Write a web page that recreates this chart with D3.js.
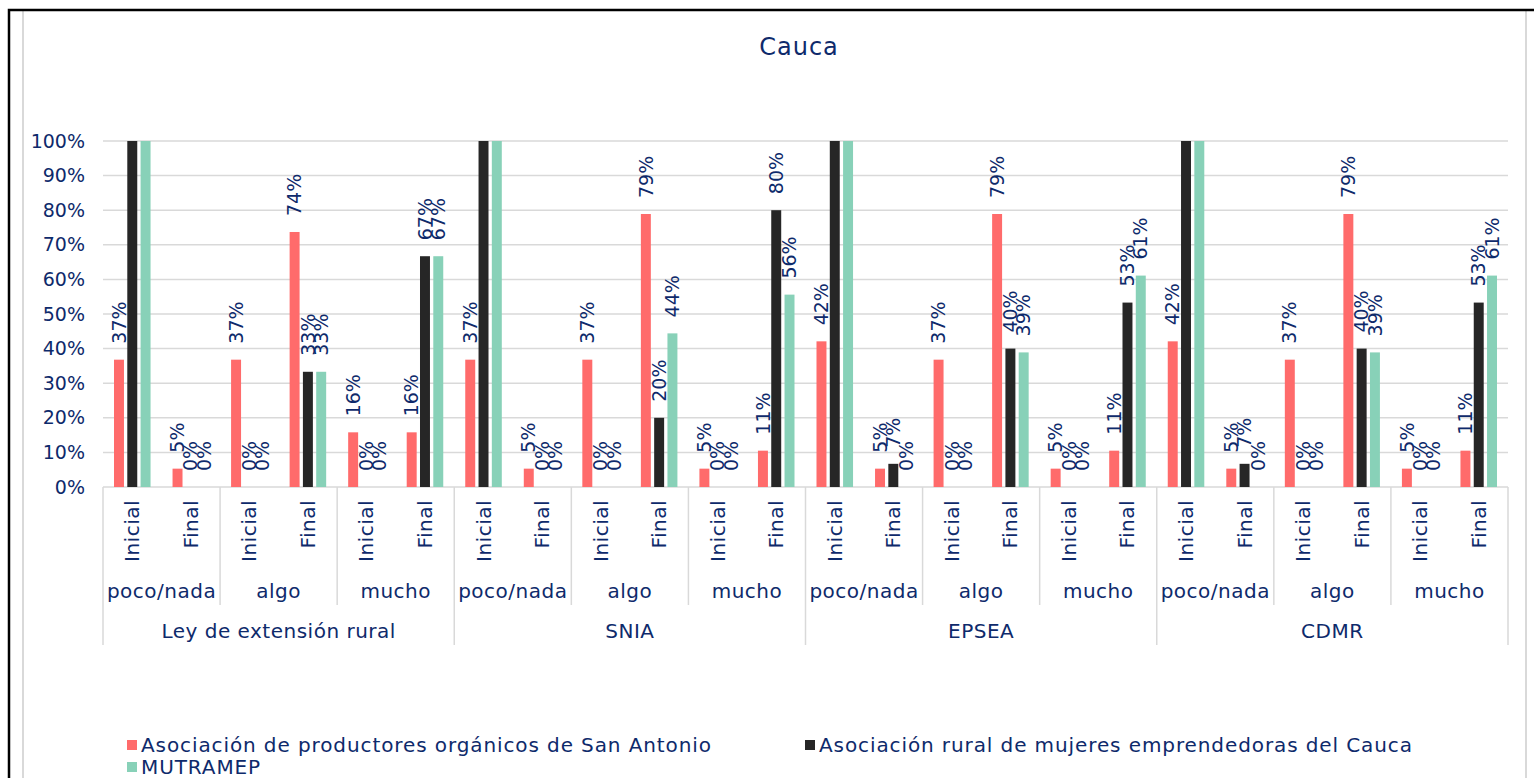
<!DOCTYPE html>
<html>
<head>
<meta charset="utf-8">
<script src="https://cdn.jsdelivr.net/npm/d3@7"></script>
<style>
  body { margin: 0; background: #fff; }
  text { font-family: "DejaVu Sans", sans-serif; fill: #0e2a6b; }
  .wide { letter-spacing: 0.5px; }
  .legend { letter-spacing: 0.9px; }
</style>
</head>
<body>
<svg width="1534" height="778"></svg>
<script>
// series names, shown in the legend
var series = ["Asociación de productores orgánicos de San Antonio",
              "Asociación rural de mujeres emprendedoras del Cauca",
              "MUTRAMEP"];
var seriesColors = ["#ff6b6b", "#262626", "#88d1b8"];

// the three levels of x labels
var groups = ["Ley de extensión rural", "SNIA", "EPSEA", "CDMR"];
var levels = ["poco/nada", "algo", "mucho"];
var phases = ["Inicial", "Final"];

// values (%) in category order: group > level > phase
var sanAntonio   = [36.8, 5.3, 36.8, 73.7, 15.8, 15.8,
                    36.8, 5.3, 36.8, 78.9, 5.3, 10.5,
                    42.1, 5.3, 36.8, 78.9, 5.3, 10.5,
                    42.1, 5.3, 36.8, 78.9, 5.3, 10.5];
var mujeresCauca = [100, 0, 0, 33.3, 0, 66.7,
                    100, 0, 0, 20, 0, 80,
                    100, 6.7, 0, 40, 0, 53.3,
                    100, 6.7, 0, 40, 0, 53.3];
var mutramep     = [100, 0, 0, 33.3, 0, 66.7,
                    100, 0, 0, 44.4, 0, 55.6,
                    100, 0, 0, 38.9, 0, 61.1,
                    100, 0, 0, 38.9, 0, 61.1];
var yTicks = [0, 10, 20, 30, 40, 50, 60, 70, 80, 90, 100];

var allValues = [sanAntonio, mujeresCauca, mutramep];

// build the category list
var cats = [];
groups.forEach(function(g) {
  levels.forEach(function(l) {
    phases.forEach(function(p) { cats.push({group: g, level: l, phase: p}); });
  });
});

var svg = d3.select("svg");

// frame
svg.append("rect").attr("x", 23).attr("y", 10).attr("width", 1503).attr("height", 800)
    .attr("fill", "none").attr("stroke", "#d9d9d9").attr("stroke-width", 2);
svg.append("path").attr("d", "M9,778V10H1534")
    .attr("fill", "none").attr("stroke", "#000").attr("stroke-width", 2.5);

// title
svg.append("text").attr("x", 799).attr("y", 55).attr("text-anchor", "middle")
    .attr("font-size", 24).attr("letter-spacing", 1).text("Cauca");

// plot area (avoid the name "top", it is window.top)
var plotL = 103, plotR = 1508, plotT = 141, plotB = 487;

var x0 = d3.scaleBand().domain(d3.range(cats.length)).range([plotL, plotR]).padding(0);
var x1 = d3.scaleBand().domain(d3.range(series.length))
    .range([11, x0.bandwidth() - 11]).paddingInner(0.25);
var y = d3.scaleLinear().domain([0, 100]).range([plotB, plotT]);

// gridlines
svg.append("g").selectAll("line").data(yTicks).enter().append("line")
    .attr("x1", plotL).attr("x2", plotR)
    .attr("y1", function(d) { return y(d); }).attr("y2", function(d) { return y(d); })
    .attr("stroke", "#d9d9d9").attr("stroke-width", 1.5);

// y axis labels
svg.append("g").selectAll("text").data(yTicks).enter().append("text")
    .attr("x", 85).attr("y", function(d) { return y(d); }).attr("dy", "0.35em")
    .attr("text-anchor", "end").attr("font-size", 19)
    .text(function(d) { return d + "%"; });

// bars
var catG = svg.append("g").selectAll("g").data(cats).enter().append("g")
    .attr("transform", function(d, i) { return "translate(" + x0(i) + ",0)"; });

catG.selectAll("rect")
  .data(function(d, i) { return allValues.map(function(v, s) { return {s: s, v: v[i]}; }); })
  .enter().append("rect")
    .attr("x", function(d) { return x1(d.s); })
    .attr("width", x1.bandwidth())
    .attr("y", function(d) { return y(d.v); })
    .attr("height", function(d) { return plotB - y(d.v); })
    .attr("fill", function(d) { return seriesColors[d.s]; });

// data labels, clipped to the plot area
svg.append("clipPath").attr("id", "plotclip").append("rect")
    .attr("x", 0).attr("y", plotT - 2).attr("width", 1534).attr("height", plotB - plotT + 60);

var fmt = d3.format(".0%");
var labG = svg.append("g").attr("clip-path", "url(#plotclip)");
cats.forEach(function(c, i) {
  allValues.forEach(function(v, s) {
    var cx = x0(i) + x1(s) + x1.bandwidth() / 2;
    var cy = y(v[i]) - 16;
    labG.append("text")
        .attr("transform", "translate(" + cx + "," + cy + ") rotate(-90)")
        .attr("dy", "0.35em").attr("font-size", 19)
        .text(fmt(v[i] / 100));
  });
});

// x axis: phase labels
svg.append("g").selectAll("text").data(cats).enter().append("text")
    .attr("class", "wide")
    .attr("transform", function(d, i) {
      return "translate(" + (x0(i) + x0.bandwidth() / 2) + ",500) rotate(-90)";
    })
    .attr("dy", "0.35em").attr("text-anchor", "end").attr("font-size", 20)
    .text(function(d) { return d.phase; });

// level labels
var levelW = x0.bandwidth() * phases.length;
var groupW = levelW * levels.length;
var levelCats = [];
groups.forEach(function(g) { levels.forEach(function(l) { levelCats.push(l); }); });

svg.append("g").selectAll("text").data(levelCats).enter().append("text")
    .attr("class", "wide")
    .attr("x", function(d, i) { return plotL + levelW * (i + 0.5); })
    .attr("y", 598).attr("text-anchor", "middle").attr("font-size", 20)
    .text(function(d) { return d; });

svg.append("g").selectAll("text").data(groups).enter().append("text")
    .attr("class", "wide")
    .attr("x", function(d, i) { return plotL + groupW * (i + 0.5); })
    .attr("y", 638).attr("text-anchor", "middle").attr("font-size", 20)
    .text(function(d) { return d; });

// separator lines
svg.append("g").selectAll("line").data(d3.range(levelCats.length + 1)).enter().append("line")
    .attr("x1", function(d) { return plotL + levelW * d; })
    .attr("x2", function(d) { return plotL + levelW * d; })
    .attr("y1", plotB)
    .attr("y2", function(d) { return d % levels.length == 0 ? 645 : 605; })
    .attr("stroke", "#d9d9d9").attr("stroke-width", 1.5);

// legend
var legendPos = [[127, 745], [805, 745], [127, 767]];
var lg = svg.append("g").selectAll("g").data(series).enter().append("g")
    .attr("transform", function(d, i) { return "translate(" + legendPos[i][0] + "," + legendPos[i][1] + ")"; });
lg.append("rect").attr("x", 0).attr("y", -5).attr("width", 10).attr("height", 10)
    .attr("fill", function(d, i) { return seriesColors[i]; });
lg.append("text").attr("class", "legend").attr("x", 14).attr("dy", "0.35em").attr("font-size", 20)
    .text(function(d) { return d; });
</script>
</body>
</html>
